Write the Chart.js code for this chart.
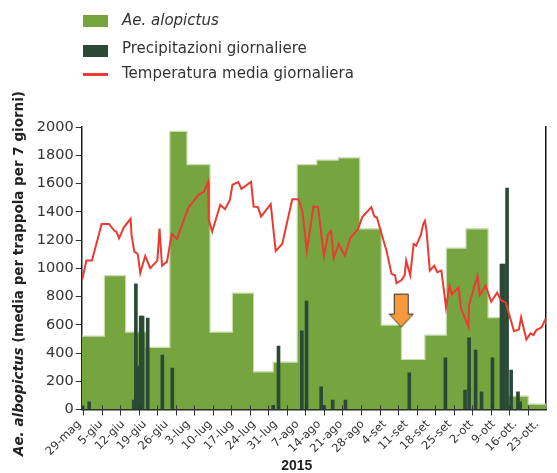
<!DOCTYPE html>
<html>
<head>
<meta charset="utf-8">
<script src="https://cdn.jsdelivr.net/npm/chart.js@4.4.1/dist/chart.umd.min.js"></script>
<style>
html,body{margin:0;padding:0;background:#fff;}
#wrap{position:relative;width:557px;height:473px;overflow:hidden;}
#c{position:absolute;left:0;top:0;}
.sw{position:absolute;left:83px;width:25px;}
.lt{position:absolute;left:122px;font-family:"DejaVu Sans";font-size:15px;line-height:15px;color:#333;white-space:nowrap;}
</style>
</head>
<body>
<div id="wrap">
  <canvas id="c" width="557" height="473"></canvas>
  <div class="sw" style="top:15px;height:12px;background:#76a540"></div>
  <div class="lt" style="top:13.3px;font-style:italic">Ae. alopictus</div>
  <div class="sw" style="top:45px;height:12px;background:#2b4a36"></div>
  <div class="lt" style="top:40.6px">Precipitazioni giornaliere</div>
  <div class="sw" style="top:72.5px;height:3px;background:#ec3a33"></div>
  <div class="lt" style="top:66px">Temperatura media giornaliera</div>
</div>
<script>
// ---- data (x in days from 29 May 2015) ----
const dateLabels = ['29-mag','5-giu','12-giu','19-giu','26-giu','3-lug','10-lug','17-lug','24-lug','31-lug','7-ago','14-ago','21-ago','28-ago','4-set','11-set','18-set','25-set','2-ott','9-ott','16-ott.','23-ott.'];
const labelDays = [0,7,14,21,28,35,42,49,56,63,70,77,84,91,98,105,112,119,126,133,140,147];

const mosquitoStart = [-0.2, 7.1, 13.9, 20.5, 28.1, 33.6, 41.0, 48.2, 55.0, 61.3, 69.0, 75.3, 82.2, 89.1, 96.0, 102.5, 110.0, 116.9, 123.2, 130.3, 136.5, 143.2];
const mosquitoValues = [520, 948, 548, 440, 1969, 1733, 548, 824, 267, 335, 1733, 1766, 1782, 1279, 598, 354, 527, 1142, 1279, 651, 94, 38];
const mosquitoEnd = 148.9;

const precipDays = [0.1, 2.2, 16.5, 17.2, 17.9, 18.75, 19.35, 21.0, 25.7, 28.9, 61.3, 63.0, 70.5, 72.0, 76.7, 77.6, 80.4, 84.5, 105.0, 116.6, 122.9, 124.2, 126.3, 128.2, 131.7, 134.6, 135.4, 136.4, 137.7, 139.9, 140.6];
const precipValues = [25, 55, 66, 889, 307, 662, 662, 648, 385, 293, 30, 449, 557, 768, 160, 30, 66, 66, 260, 366, 137, 508, 420, 125, 366, 1030, 1030, 1567, 279, 125, 54];

const tempDays = [0, 1.3, 3.1, 6.2, 8.6, 10.2, 10.9, 11.8, 13.4, 15.5, 15.8, 16.7, 17.8, 18.6, 20.2, 21.8, 24.1, 24.8, 25.6, 27.2, 28.7, 30.4, 34.1, 35.6, 37.3, 39.1, 40.4, 40.6, 41.7, 44.3, 45.8, 47.4, 48.2, 50.1, 51.1, 54.2, 55.0, 56.4, 57.4, 60.5, 62.1, 64.2, 67.4, 69.4, 70.7, 72.1, 74.2, 75.7, 77.6, 78.9, 79.9, 80.7, 82.3, 84.3, 86.0, 88.5, 89.9, 92.8, 93.8, 94.6, 96.2, 97.7, 99.3, 100.4, 100.9, 102.5, 103.5, 104.0, 105.3, 106.4, 107.2, 108.7, 109.5, 110.0, 110.5, 111.6, 113.0, 114.0, 115.3, 116.8, 117.9, 118.7, 120.8, 121.6, 124.0, 124.2, 126.9, 127.6, 129.5, 131.3, 133.2, 134.4, 136.0, 138.6, 140.2, 140.9, 142.6, 143.9, 144.9, 145.8, 147.5, 148.6, 149.1];
const tempValues = [922, 1054, 1054, 1314, 1314, 1267, 1260, 1213, 1291, 1350, 1236, 1118, 1101, 965, 1087, 1000, 1054, 1281, 1018, 1047, 1243, 1208, 1433, 1472, 1520, 1543, 1612, 1343, 1260, 1449, 1418, 1484, 1591, 1610, 1562, 1612, 1437, 1433, 1366, 1454, 1123, 1172, 1489, 1489, 1401, 1123, 1437, 1433, 1087, 1241, 1265, 1071, 1172, 1089, 1213, 1277, 1362, 1433, 1366, 1359, 1236, 1123, 960, 950, 894, 917, 950, 1054, 950, 1172, 1160, 1236, 1314, 1335, 1272, 983, 1018, 972, 983, 723, 877, 816, 862, 716, 586, 740, 948, 811, 877, 763, 827, 775, 756, 555, 567, 652, 496, 539, 527, 562, 582, 633, 598];

const arrowDay = 102.4;
const arrowValue = 700;

const yTitleItalic = 'Ae. albopictus';
const yTitleRest = ' (media per trappola per 7 giorni)';
const xTitle = '2015';

// ---- build ----
const mosquitoData = mosquitoStart.map((x, i) => ({x, y: mosquitoValues[i]}));
mosquitoData.push({x: mosquitoEnd, y: mosquitoValues[mosquitoValues.length - 1]});
const precipData = precipDays.map((x, i) => ({x, y: precipValues[i]}));
const tempData = tempDays.map((x, i) => ({x, y: tempValues[i]}));

// arrow marker image
const arrowImg = document.createElement('canvas');
arrowImg.width = 27; arrowImg.height = 36;
(function(){
  const g = arrowImg.getContext('2d');
  g.beginPath();
  g.moveTo(6.5, 1.5); g.lineTo(20.5, 1.5); g.lineTo(20.5, 21.5); g.lineTo(25.5, 21.5);
  g.lineTo(13.5, 34.5); g.lineTo(1.5, 21.5); g.lineTo(6.5, 21.5); g.closePath();
  g.fillStyle = '#f5993a'; g.fill();
  g.strokeStyle = '#333'; g.lineWidth = 1; g.stroke();
})();

const tickMarks = {
  id: 'tickMarks',
  afterDraw(chart) {
    const {ctx, chartArea} = chart;
    const x = chart.scales.x;
    ctx.save();
    ctx.strokeStyle = '#333'; ctx.lineWidth = 1;
    for (let k = 0; k <= 24; k++) {
      const px = Math.round(x.getPixelForValue(0.25 + 5.95 * k)) + 0.5;
      ctx.beginPath(); ctx.moveTo(px, chartArea.bottom - 4); ctx.lineTo(px, chartArea.bottom + 6); ctx.stroke();
    }
    ctx.restore();
  }
};

const titles = {
  id: 'titles',
  afterDraw(chart) {
    const ctx = chart.ctx;
    ctx.save();
    ctx.fillStyle = '#222';
    const fI = 'italic bold 13.5px "DejaVu Sans"';
    const fB = 'bold 13.5px "DejaVu Sans"';
    ctx.font = fI; const w1 = ctx.measureText(yTitleItalic).width;
    ctx.font = fB; const w2 = ctx.measureText(yTitleRest).width;
    const cy = 273.5;
    ctx.translate(19, cy + (w1 + w2) / 2);
    ctx.rotate(-Math.PI / 2);
    ctx.textBaseline = 'middle'; ctx.textAlign = 'left';
    ctx.font = fI; ctx.fillText(yTitleItalic, 0, 0);
    ctx.font = fB; ctx.fillText(yTitleRest, w1, 0);
    ctx.restore();
    ctx.save();
    ctx.fillStyle = '#222';
    ctx.font = 'bold 14px "Liberation Sans"';
    ctx.textAlign = 'center'; ctx.textBaseline = 'middle';
    ctx.fillText(xTitle, 296.7, 466);
    ctx.restore();
  }
};

new Chart(document.getElementById('c'), {
  type: 'line',
  data: {
    datasets: [
      {type: 'scatter', data: [{x: arrowDay, y: arrowValue}], pointStyle: arrowImg, pointRadius: 10, order: 0, yAxisID: 'y'},
      {type: 'line', data: tempData, borderColor: '#ec3a33', borderWidth: 2, pointRadius: 0, tension: 0, fill: false, order: 1, yAxisID: 'y'},
      {type: 'bar', data: precipData, backgroundColor: '#2b4a36', barThickness: 3, order: 2, yAxisID: 'y'},
      {type: 'line', data: mosquitoData, stepped: true, fill: 'origin', backgroundColor: '#76a540', borderColor: '#c9dcb2', borderWidth: 1.2, pointRadius: 0, order: 3, yAxisID: 'y'}
    ]
  },
  options: {
    responsive: false,
    animation: false,
    devicePixelRatio: 1,
    layout: {padding: {left: 37, top: 127, right: 1, bottom: 0}},
    plugins: {legend: {display: false}, tooltip: {enabled: false}},
    scales: {
      x: {
        type: 'linear', min: -0.2, max: 148.9, offset: false,
        afterBuildTicks: s => { s.ticks = labelDays.map(v => ({value: v})); },
        afterFit: s => { s.height = 63.5; },
        ticks: {autoSkip: false, minRotation: 45, maxRotation: 45, padding: 2, labelOffset: -3, color: '#333',
          font: {family: 'DejaVu Sans', size: 11.5}, callback: (v, i) => dateLabels[i]},
        grid: {display: true, drawOnChartArea: false, drawTicks: true, tickLength: 6, tickColor: 'rgba(0,0,0,0)', offset: false},
        border: {display: true, color: '#222', width: 1.5}
      },
      y: {
        position: 'left', min: 0, max: 2000,
        afterFit: s => { s.width = 44.7; },
        ticks: {stepSize: 200, padding: 2, color: '#333', font: {family: 'DejaVu Sans', size: 14.5}, callback: v => String(v)},
        grid: {drawOnChartArea: false, drawTicks: true, tickLength: 6, tickColor: '#333'},
        border: {display: true, color: '#222', width: 1.5}
      },
      y2: {
        position: 'right', min: 0, max: 2000,
        afterFit: s => { s.width = 0; },
        ticks: {display: false},
        grid: {display: false, drawTicks: false},
        border: {display: true, color: '#111', width: 1.5}
      }
    }
  },
  plugins: [tickMarks, titles]
});
</script>
</body>
</html>
